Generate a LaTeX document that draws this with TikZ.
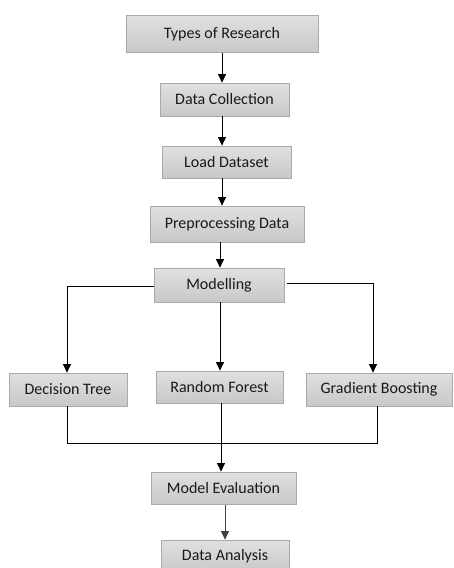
\documentclass[tikz,border=0pt]{standalone}
\usepackage{fontspec}
\setmainfont{Carlito}
\usetikzlibrary{arrows.meta,calc}
\definecolor{boxtop}{RGB}{224,224,224}
\definecolor{boxbot}{RGB}{200,200,200}
\definecolor{boxline}{RGB}{170,170,170}
\tikzset{
  box/.style={draw=boxline, line width=0.8pt, top color=boxtop, bottom color=boxbot,
    rectangle, inner sep=0pt, font=\fontsize{16}{19}\selectfont, text=black!90},
  conn/.style={line width=1pt, black},
  arr/.style={conn, -{Triangle[width=8pt,length=8.5pt]}}
}
\begin{document}
\begin{tikzpicture}[x=1pt,y=-1pt]
\useasboundingbox (0,0) rectangle (453,568);
\node[box, minimum width=192pt, minimum height=37pt] (tr) at (222,34) {Types of Research};
\node[box, minimum width=129pt, minimum height=33pt] (dc) at (224.5,99.5) {Data Collection};
\node[box, minimum width=129pt, minimum height=32pt] (ld) at (226.5,162) {Load Dataset};
\node[box, minimum width=154pt, minimum height=36pt] (pp) at (227,224) {Preprocessing Data};
\node[box, minimum width=130pt, minimum height=34pt] (mo) at (219,285) {Modelling};
\node[box, minimum width=118pt, minimum height=33pt] (dt) at (68,389.5) {Decision Tree};
\node[box, minimum width=127pt, minimum height=32pt] (rf) at (219.5,387) {Random Forest};
\node[box, minimum width=146pt, minimum height=33pt] (gb) at (379,389.5) {Gradient Boosting};
\node[box, minimum width=145pt, minimum height=32pt] (me) at (223.5,488) {Model Evaluation};
\node[box, minimum width=128pt, minimum height=32pt] (da) at (225,556) {Data Analysis};

\coordinate (a1) at (222,0);
\draw[arr] (a1 |- tr.south) -- (a1 |- dc.north);
\draw[arr] (a1 |- dc.south) -- (a1 |- ld.north);
\draw[arr] (a1 |- ld.south) -- (a1 |- pp.north);
\coordinate (a2) at (220,0);
\draw[arr] (a2 |- pp.south) -- (a2 |- mo.north);

\coordinate (ml) at (67,286);
\coordinate (mr) at (373,283);
\coordinate (mrs) at (287,283);
\draw[arr] (mo.west |- ml) -- (ml) -- (ml |- dt.north);
\draw[arr] (mrs) -- (mr) -- (mr |- gb.north);
\draw[arr] (a2 |- mo.south) -- (a2 |- rf.north);

\coordinate (bl) at (67,443);
\coordinate (br) at (377,443);
\draw[conn] (bl |- dt.south) -- (bl) -- (br) -- (br |- gb.south);
\coordinate (a3) at (221,0);
\draw[arr] (a3 |- rf.south) -- (a3 |- me.north);
\coordinate (a4) at (225,0);
\draw[arr, line width=0.8pt, black!75] (a4 |- me.south) ++(0,1) -- (a4 |- da.north);
\end{tikzpicture}
\end{document}
